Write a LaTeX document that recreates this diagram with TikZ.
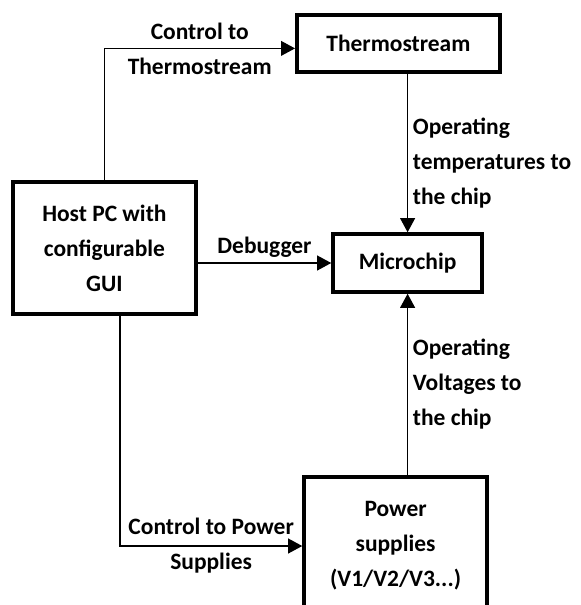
\documentclass[tikz,border=0pt]{standalone}
\usepackage{fontspec}
\setmainfont{Carlito}
\usetikzlibrary{arrows.meta, positioning}

\begin{document}
\begin{tikzpicture}[
    block/.style={rectangle, draw, line width=2.5pt, align=center},
    link/.style={-{Triangle[length=0.35cm, width=0.37cm]}, line width=0.9pt},
    lbl/.style={align=center},
    font=\fontsize{16.7}{24.9}\selectfont\bfseries]
\useasboundingbox (0,0) rectangle (14.525,-15.125);
\node[block, minimum width=5.08cm, minimum height=1.43cm] (ts) at (9.96,-1.09) {Thermostream};
\node[block, minimum width=4.58cm, minimum height=3.3cm] (host) at (2.61,-6.2) {Host PC with\\configurable\\GUI};
\node[block, minimum width=3.73cm, minimum height=1.45cm] (mc) at (10.19,-6.575) {Microchip};
\node[block, minimum width=4.58cm, minimum height=3.45cm] (ps) at (9.89,-13.65) {Power\\supplies\\(V1/V2/V3...)};
\draw[link] (host.north) |- node[lbl, pos=0.75] (lblctts) {Control to\\Thermostream} ([yshift=-0.12cm]ts.west);
\draw[link] (host.east |- mc.west) -- node[above] (lbldbg) {Debugger} (mc.west);
\draw[link] (mc.north |- ts.south) -- node[right, pos=0.56, align=left] (lbltemp) {Operating\\temperatures to\\the chip} (mc.north);
\draw[link] (mc.south |- ps.north) -- node[right, align=left] (lblvolt) {Operating\\Voltages to\\the chip} (mc.south);
\draw[link] ([xshift=0.39cm]host.south) |- node[lbl, pos=0.75] (lblctps) {Control to Power\\Supplies} (ps.west);
\end{tikzpicture}
\end{document}
